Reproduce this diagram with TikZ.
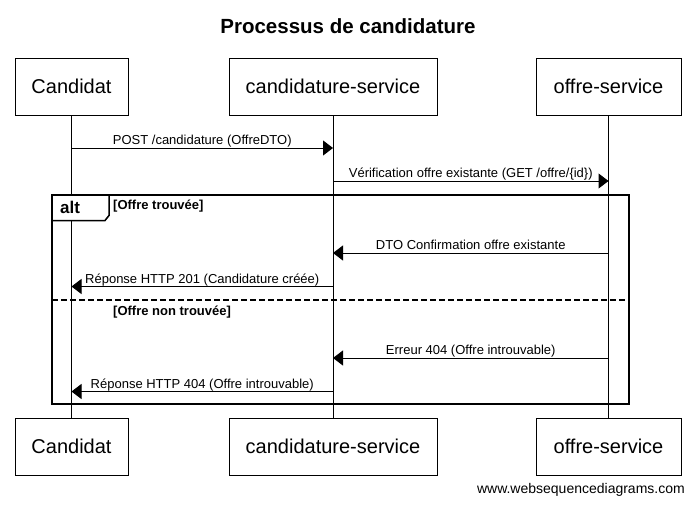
\documentclass[tikz,border=0pt]{standalone}
\usepackage{fontspec}
\setmainfont{Liberation Sans}
\usetikzlibrary{arrows.meta}
\begin{document}
\begin{tikzpicture}[x=1pt,y=-1pt,
  participant/.style={draw, line width=1pt, minimum height=57pt, inner sep=0pt, font=\fontsize{20}{24}\selectfont},
  life/.style={line width=1pt},
  msg/.style={line width=1pt, -{Triangle[length=10pt,width=15pt]}},
  lbl/.style={font=\fontsize{13}{15}\selectfont, anchor=base, inner sep=0pt, yshift=3.5pt},
  guard/.style={font=\bfseries\fontsize{13}{15}\selectfont, anchor=base west, inner sep=0pt},
  frame/.style={line width=2pt},
]
\useasboundingbox (0,0) rectangle (696,509);
\fill[white] (0,0) rectangle (696,509);

% title
\node[font=\bfseries\fontsize{20.5}{24}\selectfont, anchor=base, inner sep=0pt] (title) at (348,33) {Processus de candidature};

% participants
\node[participant, minimum width=113pt] (c1) at (71.5,86.5) {Candidat};
\node[participant, minimum width=208pt] (s1) at (333,86.5) {candidature-service};
\node[participant, minimum width=145pt] (o1) at (608.5,86.5) {offre-service};
\node[participant, minimum width=113pt] (c2) at (71.5,446.5) {Candidat};
\node[participant, minimum width=208pt] (s2) at (333,446.5) {candidature-service};
\node[participant, minimum width=145pt] (o2) at (608.5,446.5) {offre-service};

% lifelines
\draw[life] (c1.south) -- (c2.north);
\draw[life] (s1.south) -- (s2.north);
\draw[life] (o1.south) -- (o2.north);

% messages
\draw[msg] (c1.south |- 0,148) -- (s1.south |- 0,148) node[lbl, midway] {POST /candidature (OffreDTO)};
\draw[msg] (s1.south |- 0,181) -- (o1.south |- 0,181) node[lbl, midway] {Vérification offre existante (GET /offre/\{id\})};
\draw[msg] (o1.south |- 0,253) -- (s1.south |- 0,253) node[lbl, midway] {DTO Confirmation offre existante};
\draw[msg] (s1.south |- 0,286.5) -- (c1.south |- 0,286.5) node[lbl, midway] {Réponse HTTP 201 (Candidature créée)};
\draw[msg] (o1.south |- 0,358) -- (s1.south |- 0,358) node[lbl, midway] {Erreur 404 (Offre introuvable)};
\draw[msg] (s1.south |- 0,391.5) -- (c1.south |- 0,391.5) node[lbl, midway] {Réponse HTTP 404 (Offre introuvable)};

% alt frame
\draw[frame] (52,195) rectangle (629,404);
\filldraw[fill=white, line width=1.5pt] (52,195) -- (52,220.5) -- (105,220.5) -- (109,215.5) -- (109,195) -- cycle;
\draw[frame] (52,195) -- (109,195);
\node[font=\bfseries\fontsize{17}{20}\selectfont, anchor=base west, inner sep=0pt] (alt) at (60,213.3) {alt};
\node[guard] (g1) at (113,209.5) {[Offre trouvée]};
\draw[line width=1.5pt, dash pattern=on 6pt off 3pt] (52,300) -- (629,300);
\node[guard] (g2) at (113,315) {[Offre non trouvée]};

% watermark
\node[font=\fontsize{14}{16}\selectfont, anchor=base east, inner sep=0pt] (wm) at (685,493) {www.websequencediagrams.com};
\end{tikzpicture}
\end{document}
